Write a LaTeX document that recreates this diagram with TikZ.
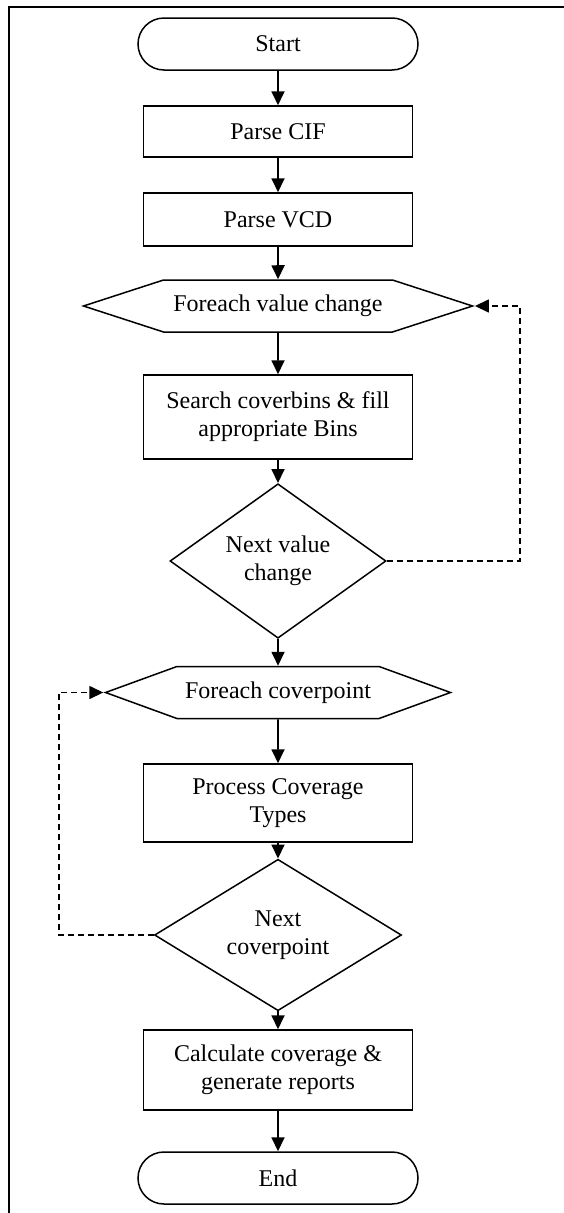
\documentclass[tikz,border=0pt]{standalone}
\usepackage{fontspec}
\setmainfont{Liberation Serif}
\usetikzlibrary{arrows.meta,positioning,shapes.geometric,shapes.symbols}
\tikzset{
  term/.style   ={rectangle,draw,line width=1.5pt,rounded corners=26pt,minimum width=280pt,minimum height=52pt,inner sep=0pt},
  proc/.style   ={rectangle,draw,line width=1.5pt,minimum width=269pt,minimum height=52pt,inner sep=0pt,align=center},
  loophex/.style={signal,signal to=west and east,draw,line width=1.5pt,minimum height=52pt,inner sep=0pt},
  test/.style   ={diamond,draw,line width=1.5pt,inner sep=0pt,align=center},
  flow/.style   ={-{Triangle[length=14pt,width=13pt]},line width=1.8pt},
  back/.style   ={-{Triangle[length=14pt,width=13pt]},line width=1.5pt,dash pattern=on 6pt off 4pt},
}

\begin{document}
\begin{tikzpicture}[x=1pt,y=-1pt,font=\fontsize{24}{28}\selectfont]
  \useasboundingbox (0,0) rectangle (564,1213);
  \draw[line width=2pt] (9,1213) -- (9,7) -- (564,7);
  \node[term](start) at (278,44){Start};
  \node[proc,minimum height=51pt](cif) at (278,131.5){Parse CIF};
  \node[proc,minimum height=53pt](vcd) at (278,219.5){Parse VCD};
  \node[loophex,minimum width=389pt,signal pointer angle=36](eachval) at (278,306){Foreach value change};
  \node[proc,minimum height=84pt](search) at (278,417){Search coverbins \& fill\\appropriate Bins};
  \node[test,minimum width=216pt,minimum height=133pt](nextval) at (278,561){Next value\\change};
  \node[loophex,minimum width=345pt,signal pointer angle=40](eachcp) at (278,692.5){Foreach coverpoint};
  \node[proc,minimum height=78pt](types) at (278,803){Process Coverage\\Types};
  \node[test,minimum width=247pt,minimum height=114pt](nextcp) at (278,935){Next\\coverpoint};
  \node[proc,minimum height=80pt](report) at (278,1070){Calculate coverage \&\\generate reports};
  \node[term](stop) at (278,1178){End};
  \draw[flow](start)--(cif); \draw[flow](cif)--(vcd); \draw[flow](vcd)--(eachval);
  \draw[flow](eachval)--(search); \draw[flow](search)--(nextval); \draw[flow](nextval)--(eachcp);
  \draw[flow](eachcp)--(types); \draw[flow](types)--(nextcp); \draw[flow](nextcp)--(report);
  \draw[flow](report)--(stop);
  \draw[back](nextval.east) -- ++(133,0) |- (eachval.east);
  \draw[back](nextcp.west) -- ++(-95,0) |- (eachcp.west);
\end{tikzpicture}
\end{document}
